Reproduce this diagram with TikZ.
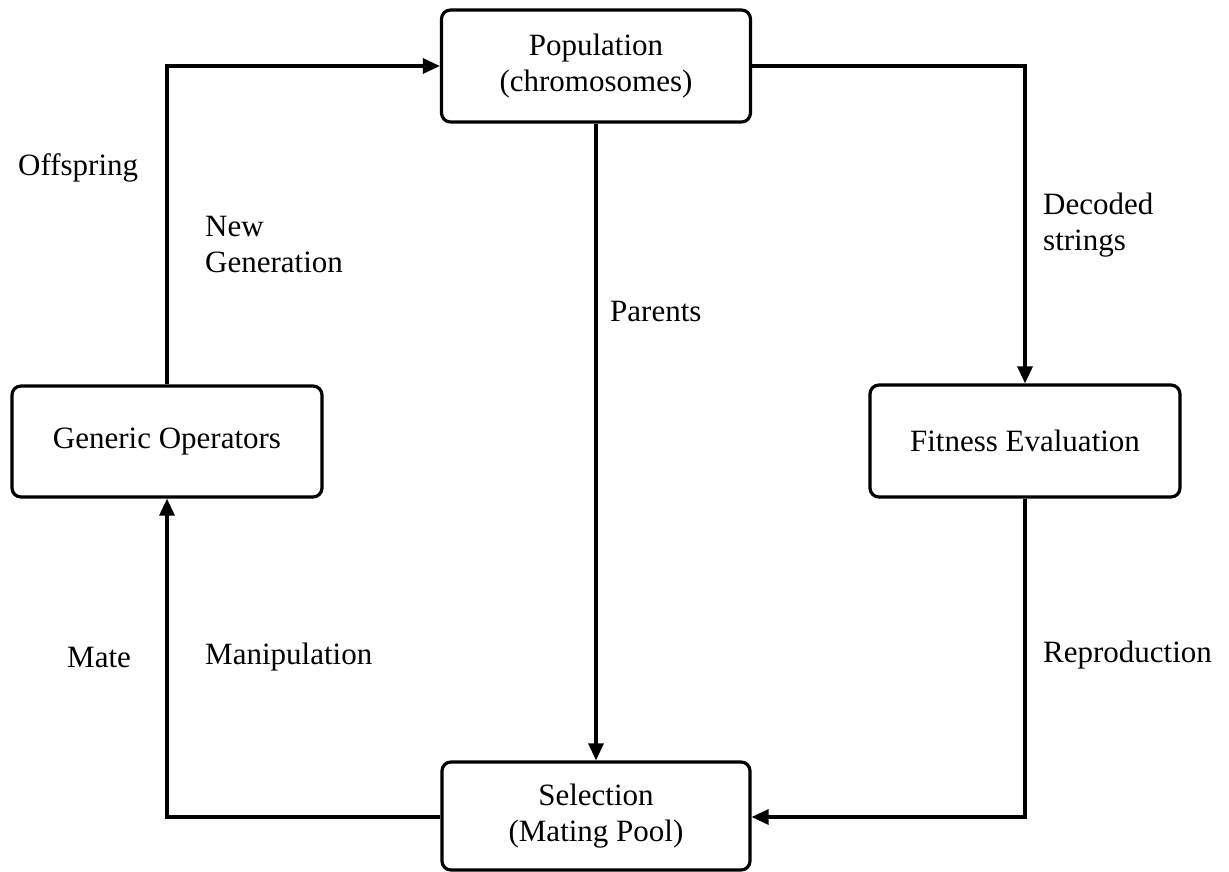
\documentclass[tikz,border=0pt]{standalone}
\usepackage{fontspec}
\setmainfont{Liberation Serif}
\usetikzlibrary{arrows.meta}
\begin{document}
\begin{tikzpicture}[x=1pt,y=-1pt,
  box/.style={draw, line width=3.2pt, rounded corners=9pt, align=center,
    inner sep=0pt, font=\fontsize{31}{36}\selectfont},
  lbl/.style={anchor=west, align=left, inner sep=0pt,
    font=\fontsize{31}{36}\selectfont},
  flow/.style={line width=3.2pt, -{Triangle[length=17pt,width=15pt]}}]
\useasboundingbox (0,0) rectangle (1229,872);

% process boxes
\node[box, minimum width=309pt, minimum height=112pt] (pop) at (596,66)
  {Population\\(chromosomes)};
\node[box, minimum width=310pt, minimum height=111pt] (gen) at (167,441.5)
  {Generic Operators};
\node[box, minimum width=310pt, minimum height=112pt] (fit) at (1025,441)
  {Fitness Evaluation};
\node[box, minimum width=308pt, minimum height=108pt] (sel) at (596,816)
  {Selection\\(Mating Pool)};

% bend points of the loop
\coordinate (tl) at (167,66);
\coordinate (tr) at (1025,66);
\coordinate (br) at (1025,817);
\coordinate (bl) at (167,817);

% connectors
\draw[flow] (gen.north) -- (tl) -- (pop.west);
\draw[flow] (pop.east) -- (tr) -- (fit.north);
\draw[flow] (pop.south) -- (sel.north);
\draw[flow] (fit.south) -- (br) -- (sel.east |- br);
\draw[flow] (sel.west |- bl) -- (bl) -- (gen.south);

% connector labels
\node[lbl] (offspring) at (18,168) {Offspring};
\node[lbl] (newgen) at (205,245) {New\\Generation};
\node[lbl] (parents) at (610,312) {Parents};
\node[lbl] (decoded) at (1043,225) {Decoded\\strings};
\node[lbl] (mate) at (67,657) {Mate};
\node[lbl] (manip) at (205,657) {Manipulation};
\node[lbl] (repro) at (1043,655) {Reproduction};
\end{tikzpicture}
\end{document}
